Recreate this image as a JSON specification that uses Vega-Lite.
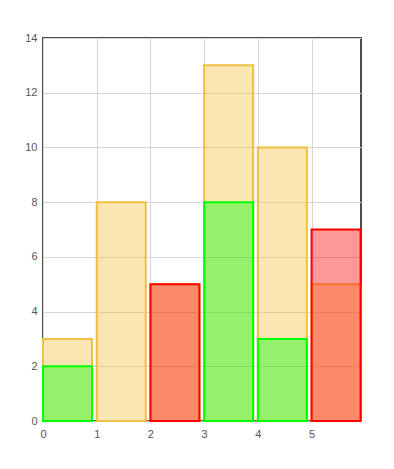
{
  "$schema": "https://vega.github.io/schema/vega-lite/v6.json",
  "autosize": {"type": "none"},
  "width": 318,
  "height": 383,
  "padding": {"left": 43, "top": 38, "right": 33, "bottom": 48},
  "background": "white",
  "config": {
    "view": {"stroke": "#4d4d4d", "strokeWidth": 2},
    "font": "Liberation Sans",
    "axis": {
      "labelFont": "Liberation Sans",
      "labelFontSize": 11,
      "labelColor": "#555",
      "domain": false,
      "ticks": false,
      "gridColor": "#d6d6d6",
      "gridWidth": 1,
      "gridOpacity": 1,
      "title": null
    }
  },
  "data": {
    "values": [
      {"x": 0, "y": 3, "series": "A"},
      {"x": 1, "y": 8, "series": "A"},
      {"x": 2, "y": 5, "series": "A"},
      {"x": 3, "y": 13, "series": "A"},
      {"x": 4, "y": 10, "series": "A"},
      {"x": 5, "y": 5, "series": "A"},
      {"x": 0, "y": 2, "series": "B"},
      {"x": 3, "y": 8, "series": "B"},
      {"x": 4, "y": 3, "series": "B"},
      {"x": 2, "y": 5, "series": "C"},
      {"x": 5, "y": 7, "series": "C"}
    ]
  },
  "mark": {"type": "bar", "width": 49, "xOffset": 24.5, "fillOpacity": 0.4, "strokeWidth": 2, "strokeOpacity": 1},
  "encoding": {
    "x": {
      "field": "x",
      "type": "quantitative",
      "scale": {"domain": [0, 5.92], "nice": false, "zero": false, "padding": 0},
      "axis": {"values": [0, 1, 2, 3, 4, 5], "labelPadding": 7, "labelAlign": "center", "labelFlush": false}
    },
    "y": {
      "field": "y",
      "type": "quantitative",
      "stack": null,
      "scale": {"domain": [0, 14], "nice": false, "padding": 0},
      "axis": {"values": [0, 2, 4, 6, 8, 10, 12, 14], "labelPadding": 6}
    },
    "fill": {
      "field": "series",
      "type": "nominal",
      "scale": {"domain": ["A", "B", "C"], "range": ["#f0c040", "#00ff00", "#ff0000"]},
      "legend": null
    },
    "stroke": {
      "field": "series",
      "type": "nominal",
      "scale": {"domain": ["A", "B", "C"], "range": ["#f0c040", "#00ff00", "#ff0000"]},
      "legend": null
    },
    "order": {"field": "series"}
  }
}
